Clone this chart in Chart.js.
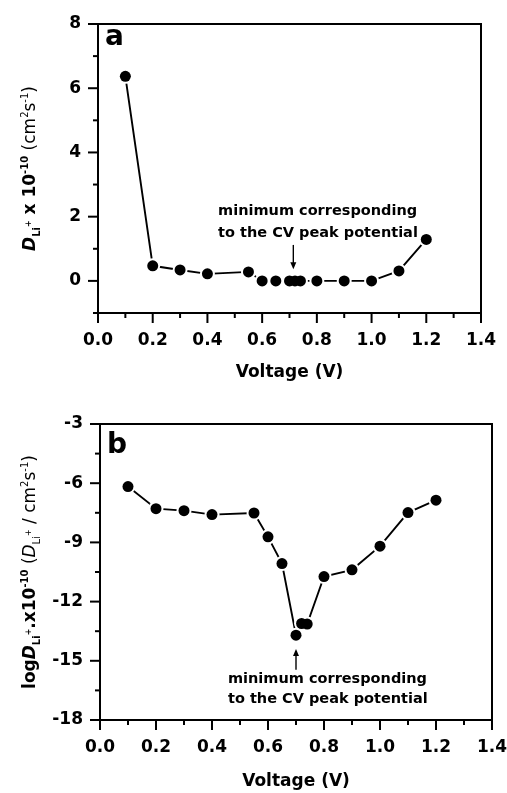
<!DOCTYPE html>
<html>
<head>
<meta charset="utf-8">
<script src="https://cdn.jsdelivr.net/npm/chart.js@4"></script>
<style>
  body { margin: 0; background: #fff; }
  canvas { display: block; }
</style>
</head>
<body>
<canvas id="chartA" width="507" height="396"></canvas>
<canvas id="chartB" width="507" height="397"></canvas>
<script>
// data
const voltage = [0.1, 0.2, 0.3, 0.4, 0.55, 0.6, 0.65, 0.7, 0.72, 0.74, 0.8, 0.9, 1.0, 1.1, 1.2]
const diffusion = [6.37, 0.47, 0.34, 0.22, 0.28, 0, 0, 0, 0, 0, 0, 0, 0, 0.31, 1.29]
const logDiffusion = [-6.17, -7.29, -7.39, -7.59, -7.51, -8.72, -10.07, -13.70, -13.11, -13.14, -10.73, -10.39, -9.19, -7.49, -6.86]

const xTickLabels = ['0.0', '0.2', '0.4', '0.6', '0.8', '1.0', '1.2', '1.4']
const yTickLabelsA = [0, 2, 4, 6, 8]
const yTickLabelsB = [-18, -15, -12, -9, -6, -3]

const noteLines = ['minimum corresponding', 'to the CV peak potential']

const FONT = "'DejaVu Sans', sans-serif"
const INK = '#000'

const bold = s => `bold ${s}px ${FONT}`
const boldIt = s => `italic bold ${s}px ${FONT}`
const reg = s => `${s}px ${FONT}`
const it = s => `italic ${s}px ${FONT}`

const titleA = [
  { t: 'D', f: boldIt(17) }, { t: 'Li', f: bold(10), dy: 5 }, { t: '+', f: bold(8), dy: -4 },
  { t: ' x 10', f: bold(17) }, { t: '-10', f: bold(10), dy: -7 },
  { t: ' (cm', f: reg(17) }, { t: '2', f: reg(10), dy: -7 }, { t: 's', f: reg(17) },
  { t: '-1', f: reg(10), dy: -7 }, { t: ')', f: reg(17) }
]
const titleB = [
  { t: 'log', f: bold(17) }, { t: 'D', f: boldIt(17) }, { t: 'Li', f: bold(10), dy: 5 },
  { t: '+', f: bold(8), dy: -4 }, { t: '.x10', f: bold(17) }, { t: '-10', f: bold(10), dy: -7 },
  { t: ' (', f: reg(17) }, { t: 'D', f: it(17) }, { t: 'Li', f: reg(10), dy: 5 },
  { t: '+', f: reg(8), dy: -4 }, { t: ' / cm', f: reg(17) }, { t: '2', f: reg(10), dy: -7 },
  { t: 's', f: reg(17) }, { t: '-1', f: reg(10), dy: -7 }, { t: ')', f: reg(17) }
]

const decor = {
  id: 'decor',
  afterDatasetsDraw(chart, args, o) {
    const { ctx, chartArea: a, scales: { x, y } } = chart
    ctx.save()
    ctx.strokeStyle = INK
    ctx.fillStyle = INK
    ctx.lineWidth = 2
    ctx.strokeRect(a.left, a.top, a.right - a.left, a.bottom - a.top)

    const seg = (x0, y0, x1, y1) => { ctx.beginPath(); ctx.moveTo(x0, y0); ctx.lineTo(x1, y1); ctx.stroke() }
    x.ticks.forEach(t => {
      const px = x.getPixelForValue(t.value)
      seg(px, a.bottom, px, a.bottom + (t.label ? 10 : 5))
    })
    y.ticks.forEach(t => {
      const py = y.getPixelForValue(t.value)
      seg(a.left, py, a.left - (t.label ? 10 : 5), py)
    })

    // arrow pointing at the CV peak
    const ax = x.getPixelForValue(o.arrow[0])
    const tail = y.getPixelForValue(o.arrow[1])
    const tip = y.getPixelForValue(o.arrow[2])
    const dir = Math.sign(tip - tail)
    ctx.lineWidth = 1.4
    seg(ax, tail, ax, tip - dir * 5)
    ctx.beginPath()
    ctx.moveTo(ax, tip)
    ctx.lineTo(ax - 3, tip - dir * 7)
    ctx.lineTo(ax + 3, tip - dir * 7)
    ctx.closePath()
    ctx.fill()

    // note text
    ctx.font = bold(14.5)
    ctx.textAlign = 'left'
    ctx.textBaseline = 'alphabetic'
    noteLines.forEach((s, i) => {
      ctx.fillText(s, x.getPixelForValue(o.note[0]), y.getPixelForValue(o.note[1 + i]))
    })

    // panel letter
    ctx.font = bold(28)
    ctx.fillText(o.letter, a.left + 7, a.top + o.letterDy)

    // x title
    ctx.font = bold(17)
    ctx.textAlign = 'center'
    ctx.textBaseline = 'middle'
    ctx.fillText('Voltage (V)', (a.left + a.right) / 2, a.bottom + o.xTitleDy)

    // y title, rotated rich text
    ctx.save()
    ctx.translate(o.yTitleX, (a.top + a.bottom) / 2)
    ctx.rotate(-Math.PI / 2)
    ctx.textAlign = 'left'
    ctx.textBaseline = 'alphabetic'
    let w = 0
    o.yTitle.forEach(s => { ctx.font = s.f; w += ctx.measureText(s.t).width })
    let cx = -w / 2
    o.yTitle.forEach(s => {
      ctx.font = s.f
      ctx.fillText(s.t, cx, s.dy || 0)
      cx += ctx.measureText(s.t).width
    })
    ctx.restore()
    ctx.restore()
  }
}

function build(id, values, o) {
  const pts = voltage.map((v, i) => ({ x: v, y: values[i] }))
  return new Chart(document.getElementById(id), {
    type: 'line',
    data: {
      datasets: [
        { data: pts, showLine: false, order: 0, pointRadius: 5.5, pointHoverRadius: 5.5,
          pointBackgroundColor: '#000', pointBorderWidth: 0 },
        { data: pts, order: 1, borderColor: INK, borderWidth: 1.9, tension: 0,
          pointRadius: 7.5, pointHoverRadius: 7.5, pointBackgroundColor: '#fff', pointBorderWidth: 0 }
      ]
    },
    options: {
      responsive: false,
      animation: false,
      events: [],
      layout: { padding: o.pad },
      plugins: { legend: { display: false }, tooltip: { enabled: false }, decor: o },
      scales: {
        x: {
          type: 'linear', min: 0, max: 1.4,
          afterFit: s => { s.height = o.xh; s.paddingLeft = 0; s.paddingRight = 0 },
          grid: { drawOnChartArea: false, tickLength: 10, tickColor: 'transparent' },
          border: { display: false },
          ticks: {
            stepSize: 0.1, autoSkip: false, maxRotation: 0, padding: 7,
            color: INK, font: { family: FONT, size: 17, weight: 'bold' },
            callback: v => xTickLabels.includes(v.toFixed(1)) ? v.toFixed(1) : ''
          }
        },
        y: {
          min: o.yMin, max: o.yMax,
          afterFit: s => { s.width = o.yw; s.paddingTop = 0; s.paddingBottom = 0 },
          grid: { drawOnChartArea: false, tickLength: 10, tickColor: 'transparent' },
          border: { display: false },
          ticks: {
            stepSize: o.yStep, autoSkip: false, padding: 7,
            color: INK, font: { family: FONT, size: 17, weight: 'bold' },
            callback: v => o.yLabels.includes(v) ? String(v) : ''
          }
        }
      }
    },
    plugins: [decor]
  })
}

build('chartA', diffusion, {
  pad: { top: 24, right: 26, left: 0, bottom: 0 }, yw: 98, xh: 83,
  yMin: -1, yMax: 8, yStep: 1, yLabels: yTickLabelsA,
  arrow: [0.714, 1.12, 0.36], note: [0.439, 2.05, 1.37],
  letter: 'a', letterDy: 21, xTitleDy: 60, yTitleX: 35, yTitle: titleA
})

build('chartB', logDiffusion, {
  pad: { top: 28, right: 15, left: 0, bottom: 0 }, yw: 100, xh: 73,
  yMin: -18, yMax: -3, yStep: 1.5, yLabels: yTickLabelsB,
  arrow: [0.70, -15.45, -14.4], note: [0.457, -16.10, -17.14],
  letter: 'b', letterDy: 29, xTitleDy: 61.7, yTitleX: 35, yTitle: titleB
})
</script>
</body>
</html>
